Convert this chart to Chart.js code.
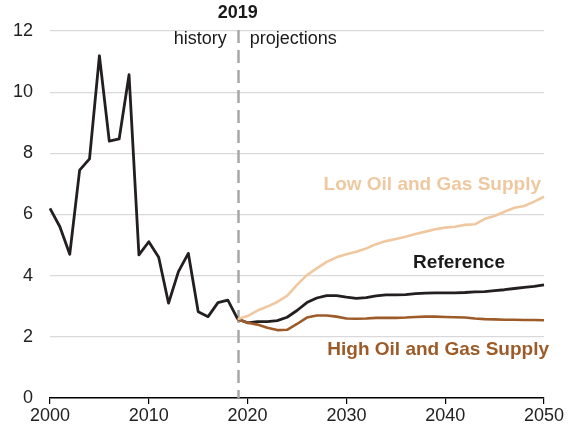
<!DOCTYPE html>
<html>
<head>
<meta charset="utf-8">
<script src="https://cdn.jsdelivr.net/npm/chart.js@4/dist/chart.umd.min.js"></script>
<style>
html,body{margin:0;padding:0;background:#fff;}
canvas{display:block;}
</style>
</head>
<body>
<canvas id="c" width="568" height="434"></canvas>
<script>
const historyYears = [2000,2001,2002,2003,2004,2005,2006,2007,2008,2009,2010,2011,2012,2013,2014,2015,2016,2017,2018,2019];
const historyValues = [6.2,5.6,4.7,7.45,7.82,11.19,8.4,8.47,10.57,4.68,5.11,4.6,3.1,4.13,4.73,2.82,2.66,3.12,3.2,2.58];
const projYears = [2019,2020,2021,2022,2023,2024,2025,2026,2027,2028,2029,2030,2031,2032,2033,2034,2035,2036,2037,2038,2039,2040,2041,2042,2043,2044,2045,2046,2047,2048,2049,2050];
const referenceValues = [2.58,2.46,2.5,2.5,2.53,2.64,2.86,3.12,3.27,3.35,3.35,3.3,3.26,3.28,3.34,3.37,3.37,3.38,3.41,3.43,3.44,3.44,3.44,3.45,3.47,3.48,3.51,3.54,3.58,3.62,3.65,3.7];
const lowSupplyValues = [2.58,2.68,2.86,2.99,3.14,3.34,3.7,4.02,4.24,4.45,4.6,4.7,4.78,4.89,5.03,5.13,5.2,5.27,5.36,5.44,5.52,5.57,5.6,5.66,5.68,5.86,5.95,6.09,6.22,6.28,6.42,6.58];
const highSupplyValues = [2.58,2.46,2.4,2.3,2.22,2.23,2.42,2.63,2.7,2.7,2.66,2.6,2.59,2.6,2.62,2.62,2.62,2.63,2.65,2.66,2.66,2.65,2.64,2.63,2.6,2.58,2.57,2.56,2.56,2.55,2.55,2.54];
const xTicks = [2000,2010,2020,2030,2040,2050];
const yTicks = [0,2,4,6,8,10,12];
const dividerYear = 2019;

const pts = (xs, ys) => xs.map((x, i) => ({x: x, y: ys[i]}));
const FONT = "'Liberation Sans', Arial, sans-serif";

const annotations = {
  id: 'annotations',
  beforeDatasetsDraw(chart) {
    const ctx = chart.ctx;
    const xs = chart.scales.x, ys = chart.scales.y;
    const x = Math.round(xs.getPixelForValue(dividerYear)) + 0.5;
    ctx.save();
    ctx.strokeStyle = '#a8a8a8';
    ctx.lineWidth = 2.5;
    ctx.setLineDash([13, 7]);
    ctx.beginPath();
    ctx.moveTo(x, 30);
    ctx.lineTo(x, ys.getPixelForValue(0));
    ctx.stroke();
    ctx.restore();
  },
  afterDraw(chart) {
    const ctx = chart.ctx;
    const xs = chart.scales.x;
    const x = xs.getPixelForValue(dividerYear);
    ctx.save();
    ctx.textBaseline = 'alphabetic';
    ctx.fillStyle = '#1a1a1a';
    ctx.font = 'bold 18px ' + FONT;
    ctx.textAlign = 'center';
    ctx.fillText('2019', x, 18);
    ctx.font = '18px ' + FONT;
    ctx.textAlign = 'right';
    ctx.fillText('history', x - 11, 44);
    ctx.textAlign = 'left';
    ctx.fillText('projections', x + 12, 44);
    ctx.font = 'bold 19px ' + FONT;
    ctx.textAlign = 'right';
    ctx.fillStyle = '#f0c8a0';
    ctx.fillText('Low Oil and Gas Supply', 541, 190);
    ctx.fillStyle = '#1a1a1a';
    ctx.fillText('Reference', 505, 268);
    ctx.fillStyle = '#9c5b28';
    ctx.fillText('High Oil and Gas Supply', 549, 355);
    ctx.restore();
  }
};

const lineStyle = {pointRadius: 0, tension: 0, fill: false, clip: false, borderJoinStyle: 'round'};

new Chart(document.getElementById('c'), {
  type: 'line',
  data: {
    datasets: [
      Object.assign({label: 'Low Oil and Gas Supply', data: pts(projYears, lowSupplyValues), borderColor: '#f0c8a0', borderWidth: 2.6}, lineStyle),
      Object.assign({label: 'High Oil and Gas Supply', data: pts(projYears, highSupplyValues), borderColor: '#9c5b28', borderWidth: 2.6}, lineStyle),
      Object.assign({label: 'Reference', data: pts(projYears, referenceValues), borderColor: '#231f20', borderWidth: 2.8}, lineStyle),
      Object.assign({label: 'History', data: pts(historyYears, historyValues), borderColor: '#231f20', borderWidth: 2.8}, lineStyle)
    ]
  },
  options: {
    responsive: false,
    animation: false,
    devicePixelRatio: 1,
    layout: {padding: {top: 31, right: 24, left: 0, bottom: 0}},
    plugins: {legend: {display: false}, tooltip: {enabled: false}},
    scales: {
      x: {
        type: 'linear', min: 2000, max: 2050,
        afterBuildTicks(s) { s.ticks = xTicks.map(v => ({value: v})); },
        afterFit(s) { s.height = 36; },
        border: {display: true, color: '#000', width: 1.5},
        grid: {display: true, drawOnChartArea: false, drawTicks: true, tickLength: 6, color: '#000', lineWidth: 1.2},
        ticks: {color: '#222', font: {family: FONT, size: 18}, padding: 1, maxRotation: 0, autoSkip: false,
                callback: v => String(v)}
      },
      y: {
        type: 'linear', min: 0, max: 12,
        afterBuildTicks(s) { s.ticks = yTicks.map(v => ({value: v})); },
        afterFit(s) { s.width = 50; },
        border: {display: false},
        grid: {color: '#d9d9d9', lineWidth: 1.2, drawTicks: false},
        ticks: {color: '#222', font: {family: FONT, size: 18}, padding: 17, callback: v => String(v)}
      }
    }
  },
  plugins: [annotations]
});
</script>
</body>
</html>
